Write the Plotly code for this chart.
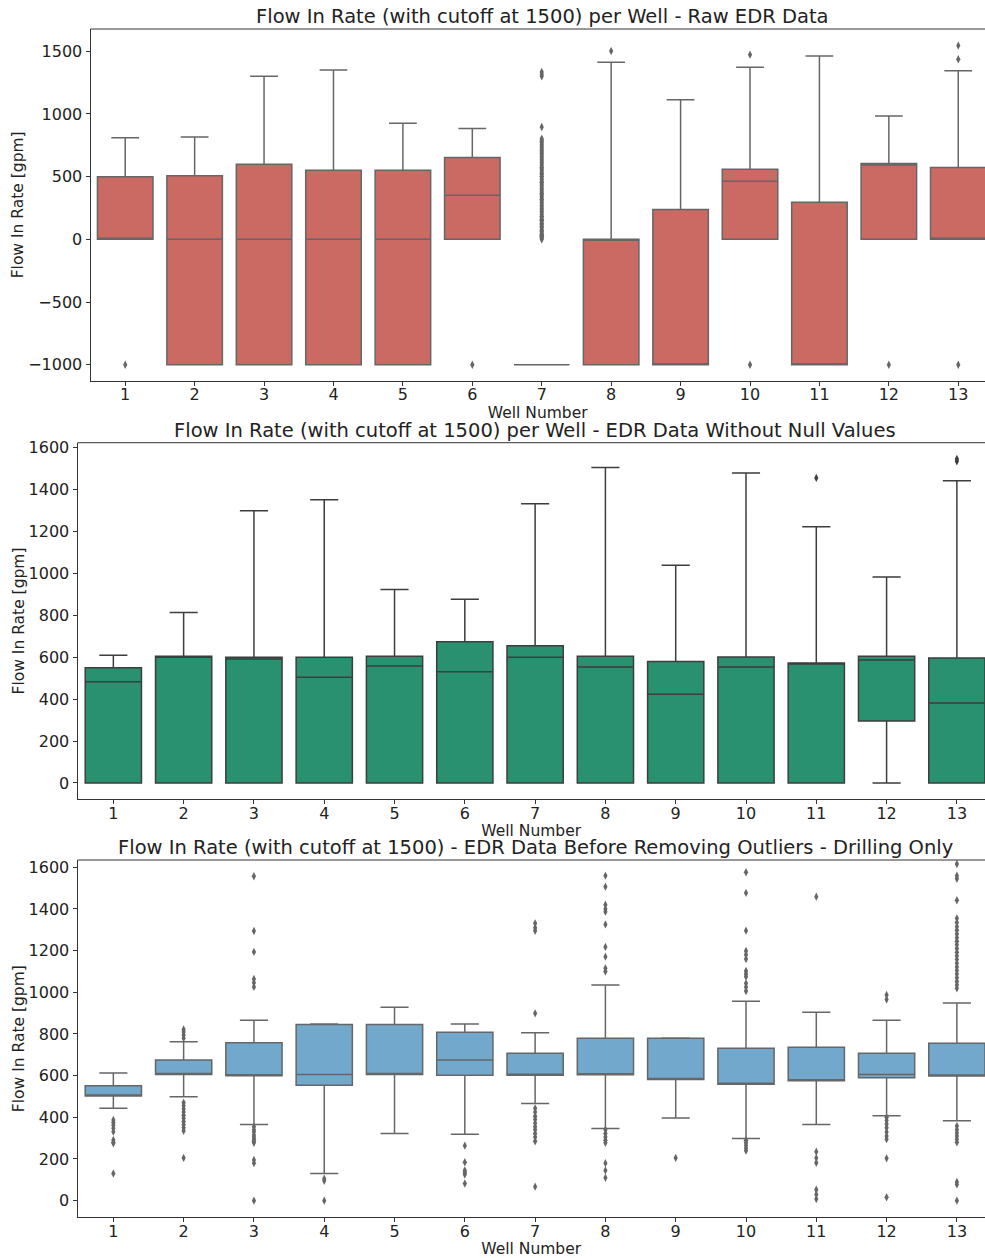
import plotly.graph_objects as go

wells = list(range(1, 14))

# ---------------- Panel 1: Raw EDR data ----------------
raw_q1 = [0, -1000, -1000, -1000, -1000, 0, -1000, -1000, -1000, 0, -1000, 0, 0]
raw_med = [0, 0, 0, 0, 0, 351, -1000, 0, -1000, 463, -1000, 593, 0]
raw_q3 = [500, 508, 598, 550, 550, 652, -1000, 0, 237, 558, 295, 604, 572]
raw_lo = [0, -1000, -1000, -1000, -1000, 0, -1000, -1000, -1000, 0, -1000, 0, 0]
raw_hi = [811, 816, 1300, 1350, 925, 883, -1000, 1412, 1114, 1372, 1462, 983, 1345]
raw_out = [
    [-1000],
    [],
    [],
    [],
    [],
    [-1000],
    [0, 8, 15, 24, 33, 41, 50, 62, 70, 81, 95, 104, 118, 126, 140, 152, 160, 175, 184, 197,
     210, 222, 236, 245, 258, 270, 283, 295, 307, 320, 331, 345, 356, 368, 380, 395, 404,
     418, 430, 441, 455, 466, 478, 490, 503, 515, 527, 540, 552, 563, 575, 588, 600, 612,
     624, 636, 648, 660, 672, 685, 697, 708, 720, 733, 745, 757, 768, 780, 792, 803,
     896, 1300, 1316, 1335],
    [1502],
    [],
    [1473, -1000],
    [],
    [-1000],
    [1545, 1436, -1000],
]

# ---------------- Panel 2: without null values ----------------
nn_q1 = [0, 0, 0, 0, 0, 0, 0, 0, 0, 0, 0, 295, 0]
nn_med = [483, 600, 591, 504, 558, 531, 600, 553, 423, 553, 568, 587, 381]
nn_q3 = [550, 604, 600, 600, 604, 673, 655, 604, 579, 601, 572, 604, 596]
nn_lo = [0, 0, 0, 0, 0, 0, 0, 0, 0, 0, 0, 0, 0]
nn_hi = [609, 813, 1298, 1351, 923, 876, 1332, 1505, 1038, 1478, 1222, 982, 1442]
nn_out = [[], [], [], [], [], [], [], [], [], [], [1455], [], [1545, 1534]]

# ---------------- Panel 3: drilling only ----------------
dr_q1 = [502, 605, 600, 554, 605, 602, 602, 604, 581, 559, 576, 590, 598]
dr_med = [502, 605, 600, 605, 605, 675, 606, 604, 581, 559, 576, 605, 600]
dr_q3 = [552, 675, 758, 845, 845, 808, 707, 779, 779, 731, 736, 707, 755]
dr_lo = [443, 499, 365, 130, 322, 319, 466, 346, 397, 298, 365, 408, 384]
dr_hi = [613, 763, 866, 848, 928, 848, 806, 1035, 781, 957, 904, 866, 949]
dr_out = [
    [387, 375, 363, 347, 331, 291, 280, 275, 130],
    [822, 810, 795, 780, 470, 455, 440, 425, 410, 395, 380, 365, 350, 335, 205],
    [1557, 1294, 1194, 1064, 1046, 1026, 355, 340, 330, 315, 305, 295, 285, 278, 195, 180, 0],
    [105, 95, 0],
    [],
    [264, 184, 145, 135, 125, 82],
    [1331, 1310, 1295, 899, 443, 425, 405, 390, 372, 355, 340, 322, 305, 285, 67],
    [1560, 1507, 1420, 1400, 1387, 1326, 1218, 1171, 1115, 1100, 340, 322, 305, 290, 278,
     180, 145, 110],
    [205],
    [1576, 1477, 1296, 1198, 1180, 1160, 1102, 1088, 1075, 1043, 1025, 1006, 290, 278, 265,
     252, 240],
    [1459, 235, 205, 182, 52, 30, 8],
    [987, 965, 400, 385, 368, 350, 330, 310, 295, 203, 16],
    [1616, 1560, 1545, 1442, 1355, 1335, 1315, 1298, 1280, 1262, 1245, 1228, 1210, 1192,
     1175, 1158, 1140, 1122, 1105, 1088, 1070, 1052, 1035, 1019, 358, 340, 325, 310, 295,
     280, 90, 78, 0],
]

titles = [
    "Flow In Rate (with cutoff at 1500) per Well - Raw EDR Data",
    "Flow In Rate (with cutoff at 1500) per Well - EDR Data Without Null Values",
    "Flow In Rate (with cutoff at 1500) - EDR Data Before Removing Outliers - Drilling Only",
]
fills = ["#cb6963", "#2a9170", "#72a8cc"]
edges = ["#666666", "#3d3d3d", "#666666"]

W, H = 985, 1258
# pixel geometry of the three axes (left, top, bottom)
geo = [(90.5, 29.0, 380.7), (77.5, 442.7, 799.3), (77.5, 860.0, 1217.3)]
title_cx = [541.5, 535.0, 535.0]
xranges = [[0.5, 13.385], [0.49, 13.40], [0.49, 13.40]]
yranges = [[-1127.5, 1677.5], [-78, 1623], [-80, 1635]]
ytickvals = [
    [-1000, -500, 0, 500, 1000, 1500],
    [0, 200, 400, 600, 800, 1000, 1200, 1400, 1600],
    [0, 200, 400, 600, 800, 1000, 1200, 1400, 1600],
]

panels = [
    (raw_q1, raw_med, raw_q3, raw_lo, raw_hi, raw_out),
    (nn_q1, nn_med, nn_q3, nn_lo, nn_hi, nn_out),
    (dr_q1, dr_med, dr_q3, dr_lo, dr_hi, dr_out),
]

FONT = "DejaVu Sans"
TXT = "#222222"

fig = go.Figure()
annotations = []
shapes = []
for p, (q1, med, q3, lo, hi, outs) in enumerate(panels):
    xa = "x" if p == 0 else f"x{p+1}"
    ya = "y" if p == 0 else f"y{p+1}"
    for i, w in enumerate(wells):
        fig.add_trace(go.Box(
            x=[w], q1=[q1[i]], median=[med[i]], q3=[q3[i]],
            lowerfence=[lo[i]], upperfence=[hi[i]],
            width=0.8, whiskerwidth=0.5,
            fillcolor=fills[p], line=dict(color=edges[p], width=1.5),
            boxpoints=False, showlegend=False, hoverinfo="skip",
            xaxis=xa, yaxis=ya,
        ))
        if outs[i]:
            fig.add_trace(go.Scatter(
                x=[w] * len(outs[i]), y=outs[i], mode="markers",
                marker=dict(symbol="diamond-tall", size=6, color=edges[p]),
                showlegend=False, hoverinfo="skip", xaxis=xa, yaxis=ya,
            ))
    left, top, bottom = geo[p]
    xd = [left / W, 1.0]
    yd = [1 - bottom / H, 1 - top / H]
    axis_common = dict(
        showline=True, linecolor="#333333", linewidth=1, ticks="outside",
        ticklen=4, tickcolor="#333333", showgrid=False, zeroline=False,
        automargin=False,
        tickfont=dict(family=FONT, size=16, color=TXT),
    )
    xkey = "xaxis" if p == 0 else f"xaxis{p+1}"
    ykey = "yaxis" if p == 0 else f"yaxis{p+1}"
    fig.update_layout(**{
        xkey: dict(domain=xd, range=xranges[p], anchor=ya, tickvals=wells,
                   ticktext=[str(w) for w in wells], ticklabelstandoff=-5,
                   title=dict(text="Well Number", standoff=0,
                              font=dict(family=FONT, size=15.5, color=TXT)),
                   **axis_common),
        ykey: dict(domain=yd, range=yranges[p], anchor=xa,
                   tickvals=ytickvals[p],
                   ticktext=[str(v).replace("-", "\u2212") for v in ytickvals[p]],
                   title=dict(text="Flow In Rate [gpm]", standoff=0,
                              font=dict(family=FONT, size=15.5, color=TXT)),
                   **axis_common),
    })
    # top spine
    shapes.append(dict(type="line", xref="paper", yref="paper", x0=xd[0], x1=1.0,
                       y0=yd[1], y1=yd[1], line=dict(color="#333333", width=1)))
    annotations.append(dict(
        text=titles[p], xref="paper", yref="paper",
        x=title_cx[p] / W, y=yd[1] - 1 / H,
        xanchor="center", yanchor="bottom", showarrow=False,
        font=dict(family=FONT, size=19.5, color=TXT),
    ))

fig.update_layout(
    template="none",
    width=W, height=H, margin=dict(l=0, r=0, t=0, b=0, autoexpand=False),
    paper_bgcolor="white", plot_bgcolor="white",
    annotations=annotations, shapes=shapes,
)

fig.write_html("out.html", config={"displayModeBar": False},
               post_script="document.body.style.margin='0px';")
